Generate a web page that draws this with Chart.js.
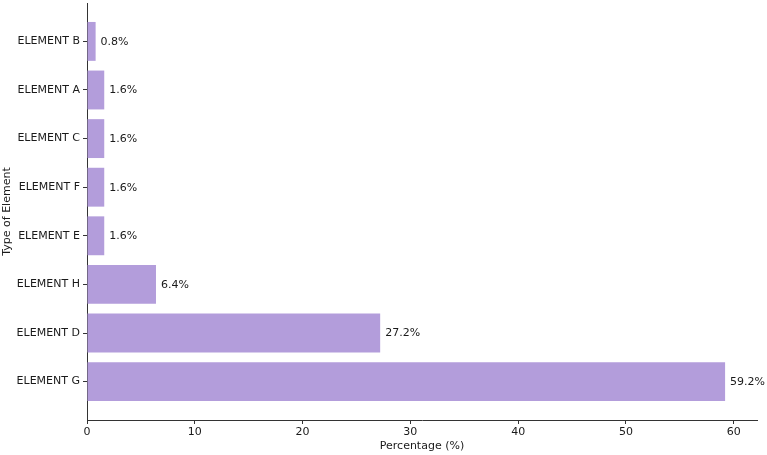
<!DOCTYPE html>
<html><head><meta charset="utf-8">
<script src="https://cdn.jsdelivr.net/npm/chart.js@4/dist/chart.umd.min.js"></script>
<style>html,body{margin:0;padding:0;background:#fff}#wrap{width:767px;height:455px}</style>
</head><body><div id="wrap"><canvas id="c" width="767" height="455"></canvas></div>
<script>
const categories = ["ELEMENT B","ELEMENT A","ELEMENT C","ELEMENT F","ELEMENT E","ELEMENT H","ELEMENT D","ELEMENT G"];
const percentages = [0.8,1.6,1.6,1.6,1.6,6.4,27.2,59.2];
const xTicks = [0,10,20,30,40,50,60];

const FONT = "'DejaVu Sans', sans-serif";
const TXT = '#1a1a1a';
const barColor = '#b39ddb';

const valueLabels = {
  id: 'valueLabels',
  afterDatasetsDraw(chart) {
    const ctx = chart.ctx, xs = chart.scales.x, ys = chart.scales.y;
    ctx.save();
    ctx.font = '11px ' + FONT;
    ctx.fillStyle = TXT;
    ctx.textAlign = 'left';
    ctx.textBaseline = 'middle';
    percentages.forEach((v, i) => {
      ctx.fillText(v.toFixed(1) + '%', xs.getPixelForValue(v) + 5, ys.getPixelForValue(i) + 0.5);
    });
    ctx.restore();
  }
};

new Chart(document.getElementById('c'), {
  type: 'bar',
  data: {
    datasets: [{
      data: percentages.map((v, i) => ({x: v, y: i})),
      backgroundColor: barColor,
      borderWidth: 0,
      barPercentage: 0.8,
      categoryPercentage: 1.0
    }]
  },
  options: {
    indexAxis: 'y',
    responsive: false,
    animation: false,
    devicePixelRatio: 1,
    layout: {padding: {top: 3, right: 10, left: 0, bottom: 0}},
    plugins: {legend: {display: false}, tooltip: {enabled: false}},
    scales: {
      x: {
        type: 'linear',
        min: 0,
        max: 62.16,
        afterBuildTicks(scale) { scale.ticks = xTicks.map(v => ({value: v})); },
        afterFit(scale) { scale.height = 35; scale.paddingLeft = 0; scale.paddingRight = 0; },
        grid: {drawOnChartArea: false, drawTicks: true, tickLength: 4, color: '#333', lineWidth: 1},
        border: {display: true, color: '#333', width: 1},
        ticks: {color: TXT, font: {family: FONT, size: 11}, padding: 2, maxRotation: 0},
        title: {display: true, text: 'Percentage (%)', color: TXT, font: {family: FONT, size: 11}, padding: {top: 0, bottom: 2}}
      },
      y: {
        type: 'linear',
        reverse: true,
        offset: false,
        min: -0.79,
        max: 7.79,
        afterDataLimits(scale) { scale.min = -0.79; scale.max = 7.79; },
        afterBuildTicks(scale) { scale.ticks = categories.map((c, i) => ({value: i})); },
        afterFit(scale) { scale.width = 87; scale.paddingTop = 0; scale.paddingBottom = 0; },
        grid: {offset: false, drawOnChartArea: false, drawTicks: true, tickLength: 4, color: '#333', lineWidth: 1},
        border: {display: true, color: '#333', width: 1},
        ticks: {color: TXT, font: {family: FONT, size: 11}, padding: 3, autoSkip: false,
          callback: (v) => categories[v] !== undefined ? categories[v] : ''},
        title: {display: true, text: 'Type of Element', color: TXT, font: {family: FONT, size: 11}, padding: {top: 1, bottom: 0}}
      }
    }
  },
  plugins: [valueLabels]
});
</script></body></html>
